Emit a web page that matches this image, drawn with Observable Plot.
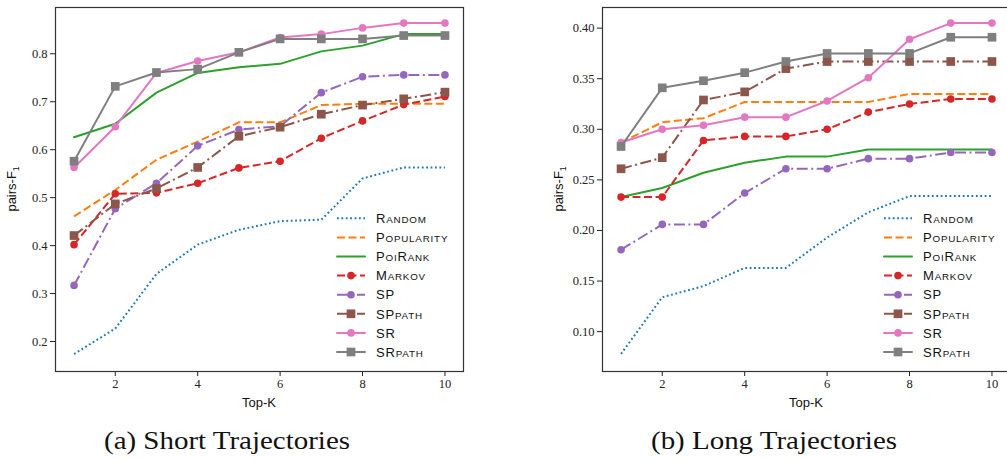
<!DOCTYPE html>
<html><head><meta charset="utf-8">
<script src="https://cdn.jsdelivr.net/npm/d3@7"></script>
<script src="https://cdn.jsdelivr.net/npm/@observablehq/plot@0.6"></script>
<style>
html,body{margin:0;padding:0;background:#fff;overflow:hidden;}
#wrap{position:relative;width:1007px;height:461px;overflow:hidden;background:#fff;}
#wrap svg{position:absolute;top:0;}
</style></head><body><div id="wrap"></div>
<script>
// ---------- data ----------
const topK = [1, 2, 3, 4, 5, 6, 7, 8, 9, 10];
const seriesNames = ["Random", "Popularity", "PoiRank", "Markov", "SP", "SPpath", "SR", "SRpath"];
const xTicks = [2, 4, 6, 8, 10];
const shortYTicks = [0.2, 0.3, 0.4, 0.5, 0.6, 0.7, 0.8];
const longYTicks = [0.10, 0.15, 0.20, 0.25, 0.30, 0.35, 0.40];
const captions = ["(a) Short Trajectories", "(b) Long Trajectories"];
const yLabel = "pairs-F";
const yLabelSub = "1";
const xLabel = "Top-K";

const shortRandom     = [0.174, 0.227, 0.341, 0.402, 0.433, 0.451, 0.454, 0.540, 0.563, 0.563];
const shortPopularity = [0.461, 0.516, 0.579, 0.617, 0.657, 0.657, 0.693, 0.696, 0.696, 0.696];
const shortPoiRank    = [0.626, 0.654, 0.719, 0.760, 0.772, 0.779, 0.805, 0.817, 0.841, 0.841];
const shortMarkov     = [0.402, 0.508, 0.510, 0.530, 0.562, 0.576, 0.624, 0.660, 0.694, 0.711];
const shortSP         = [0.317, 0.477, 0.530, 0.608, 0.642, 0.649, 0.719, 0.752, 0.756, 0.756];
const shortSPpath     = [0.421, 0.487, 0.519, 0.563, 0.628, 0.647, 0.674, 0.693, 0.706, 0.720];
const shortSR         = [0.563, 0.648, 0.760, 0.785, 0.803, 0.834, 0.841, 0.854, 0.864, 0.864];
const shortSRpath     = [0.576, 0.732, 0.761, 0.768, 0.803, 0.831, 0.831, 0.831, 0.838, 0.838];

const longRandom      = [0.078, 0.134, 0.145, 0.163, 0.163, 0.193, 0.218, 0.234, 0.234, 0.234];
const longPopularity  = [0.287, 0.307, 0.311, 0.327, 0.327, 0.327, 0.327, 0.335, 0.335, 0.335];
const longPoiRank     = [0.233, 0.242, 0.257, 0.267, 0.273, 0.273, 0.280, 0.280, 0.280, 0.280];
const longMarkov      = [0.233, 0.233, 0.289, 0.293, 0.293, 0.300, 0.317, 0.325, 0.330, 0.330];
const longSP          = [0.181, 0.206, 0.206, 0.237, 0.261, 0.261, 0.271, 0.271, 0.277, 0.277];
const longSPpath      = [0.261, 0.272, 0.329, 0.337, 0.360, 0.367, 0.367, 0.367, 0.367, 0.367];
const longSR          = [0.287, 0.300, 0.304, 0.312, 0.312, 0.328, 0.351, 0.389, 0.405, 0.405];
const longSRpath      = [0.283, 0.341, 0.348, 0.356, 0.367, 0.375, 0.375, 0.375, 0.391, 0.391];

// ---------- styles ----------
const seriesColors = ["#1f77b4", "#ff7f0e", "#2ca02c", "#d62728", "#9467bd", "#8c564b", "#e377c2", "#7f7f7f"];
const seriesDash   = ["1.8,2.6", "8,3.5", null, "8,3.5", "11,3.5,2,3.5", "11,3.5,2,3.5", null, null];
const seriesMarker = [null, null, null, "circle", "circle", "square", "circle", "square"];
const MARK_R = {circle: 3.8, square: 4.9};

const W = 470, H = 461;
const M = {top: 7, left: 55, right: 7, bottom: 90};

// split a label into runs of capitals (full size) and lowercase (rendered as small caps)
function smallCapsRuns(str) {
  const runs = [];
  for (const ch of str) {
    const big = ch === ch.toUpperCase();
    if (runs.length && runs[runs.length - 1].big === big) runs[runs.length - 1].t += ch;
    else runs.push({big, t: ch});
  }
  return runs;
}

function makePanel(seriesValues, yDomain, yTicks, fmt, left, caption) {
  const marks = [
    Plot.axisX({ticks: xTicks, tickSize: 5, tickPadding: 3, label: null, tickFormat: d3.format("d")}),
    Plot.axisY({ticks: yTicks, tickSize: 5, tickPadding: 3, label: null, tickFormat: d3.format(fmt)})
  ];
  seriesNames.forEach((name, i) => {
    const data = topK.map((k, j) => ({k, v: seriesValues[i][j], series: name}));
    marks.push(Plot.line(data, {
      x: "k", y: "v", stroke: seriesColors[i], strokeWidth: 2,
      strokeDasharray: seriesDash[i] || undefined,
      strokeLinecap: seriesDash[i] ? "butt" : "round", strokeLinejoin: "round"
    }));
    if (seriesMarker[i]) {
      marks.push(Plot.dot(data, {
        x: "k", y: "v", fill: seriesColors[i], stroke: "none",
        symbol: seriesMarker[i], r: MARK_R[seriesMarker[i]]
      }));
    }
  });
  marks.push(Plot.frame({stroke: "#333", strokeWidth: 1.2}));

  const svg = Plot.plot({
    width: W, height: H,
    marginTop: M.top, marginLeft: M.left, marginRight: M.right, marginBottom: M.bottom,
    x: {domain: [0.55, 10.45]},
    y: {domain: yDomain},
    style: {fontFamily: "'Liberation Serif', serif", fontSize: "12.5px", color: "#222", background: "transparent", overflow: "visible"},
    marks
  });
  svg.style.left = left + "px";
  const s = d3.select(svg);
  const sans = "'Liberation Sans', Arial, sans-serif";

  // y label
  const yl = s.append("text")
    .attr("transform", `translate(16,${(M.top + (H - M.bottom)) / 2}) rotate(-90)`)
    .attr("text-anchor", "middle")
    .attr("font-family", sans).attr("font-size", 13).attr("fill", "#111");
  yl.append("tspan").text(yLabel);
  yl.append("tspan").attr("font-size", 8.5).attr("dy", 3).text(yLabelSub);

  // x label
  s.append("text")
    .attr("x", (M.left + W - M.right) / 2).attr("y", 406.5)
    .attr("text-anchor", "middle")
    .attr("font-family", sans).attr("font-size", 13).attr("fill", "#111")
    .text(xLabel);

  // legend
  const lg = s.append("g");
  const rowY0 = 218.3, rowDy = 19.1, lx0 = 337, lx1 = 365, tx = 376;
  seriesNames.forEach((name, i) => {
    const y = rowY0 + i * rowDy;
    lg.append("line").attr("x1", lx0).attr("x2", lx1).attr("y1", y).attr("y2", y)
      .attr("stroke", seriesColors[i]).attr("stroke-width", 2)
      .attr("stroke-dasharray", seriesDash[i] || null)
      .attr("stroke-linecap", seriesDash[i] ? "butt" : "round");
    const mk = seriesMarker[i];
    if (mk === "circle") {
      lg.append("circle").attr("cx", (lx0 + lx1) / 2).attr("cy", y).attr("r", MARK_R.circle).attr("fill", seriesColors[i]);
    } else if (mk === "square") {
      const a = MARK_R.square * Math.sqrt(Math.PI);
      lg.append("rect").attr("x", (lx0 + lx1) / 2 - a / 2).attr("y", y - a / 2).attr("width", a).attr("height", a).attr("fill", seriesColors[i]);
    }
    const t = lg.append("text").attr("x", tx).attr("y", y + 4.7)
      .attr("text-anchor", "start")
      .attr("font-family", sans).attr("fill", "#111")
      .style("letter-spacing", "0.8px");
    for (const r of smallCapsRuns(name)) {
      t.append("tspan").attr("font-size", r.big ? 13 : 9.8).text(r.t.toUpperCase());
    }
  });

  // caption
  s.append("text")
    .attr("x", 227).attr("y", 449).attr("text-anchor", "middle")
    .attr("font-family", "'Liberation Serif', serif").attr("font-size", 26).attr("fill", "#111")
    .attr("textLength", 246).attr("lengthAdjust", "spacingAndGlyphs")
    .text(caption);
  return svg;
}

const wrap = document.getElementById("wrap");
wrap.appendChild(makePanel(
  [shortRandom, shortPopularity, shortPoiRank, shortMarkov, shortSP, shortSPpath, shortSR, shortSRpath],
  [0.1375, 0.8965], shortYTicks, ".1f", 0, captions[0]));
wrap.appendChild(makePanel(
  [longRandom, longPopularity, longPoiRank, longMarkov, longSP, longSPpath, longSR, longSRpath],
  [0.0606, 0.4204], longYTicks, ".2f", 547, captions[1]));
</script>
</body></html>
